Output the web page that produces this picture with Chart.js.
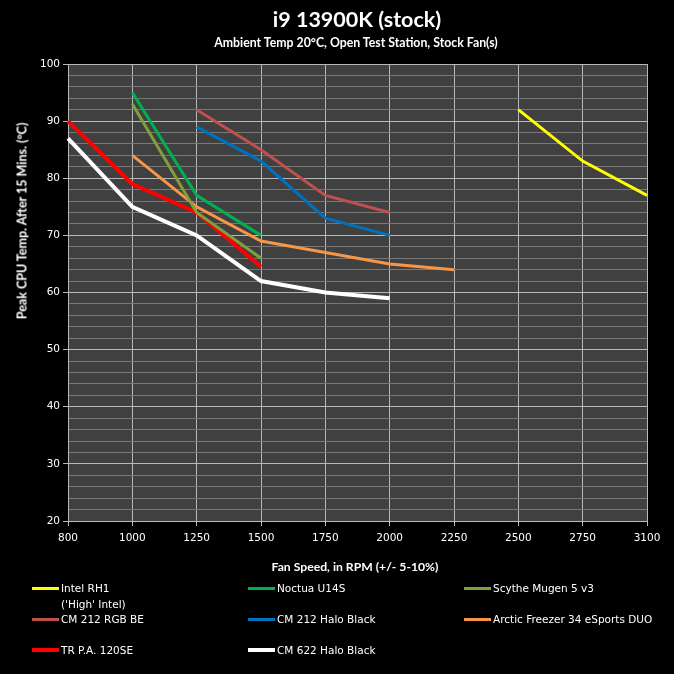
<!DOCTYPE html>
<html>
<head>
<meta charset="utf-8">
<script src="https://cdn.jsdelivr.net/npm/chart.js@4.4.1/dist/chart.umd.min.js"></script>
<style>
  html, body { margin: 0; padding: 0; background: #000; }
  #wrap { position: relative; width: 674px; height: 674px; background: #000; overflow: hidden; }
  canvas { position: absolute; left: 0; top: 0; }
  .txt { position: absolute; color: #fff; white-space: nowrap; font-family: Lato, "Open Sans", sans-serif; font-weight: bold; }
  .ctr { transform: translate(-50%, -50%); }
  .leg { position: absolute; display: flex; align-items: flex-start; color: #fff;
         font-family: "DejaVu Sans", sans-serif; font-size: 10.5px; line-height: 16px; white-space: pre-line; }
  .leg .sw { display: inline-block; width: 27px; margin-right: 2px; }
</style>
</head>
<body>
<div id="wrap">
  <canvas id="c" width="674" height="674"></canvas>
  <div class="txt ctr" style="left:357px; top:19px; font-size:21.5px;">i9 13900K (stock)</div>
  <div class="txt ctr" style="left:356px; top:42px; font-size:12.3px;">Ambient Temp 20°C, Open Test Station, Stock Fan(s)</div>
  <div class="txt ctr" style="left:355px; top:566px; font-size:12.2px;">Fan Speed, in RPM (+/- 5-10%)</div>
  <div class="txt" style="left:22px; top:221px; font-size:12.5px; transform: translate(-50%, -50%) rotate(-90deg);">Peak CPU Temp. After 15 Mins. (°C)</div>
</div>
<script>
const categories = ['800', '1000', '1250', '1500', '1750', '2000', '2250', '2500', '2750', '3100'];
const yTickLabels = [20, 30, 40, 50, 60, 70, 80, 90, 100];

const intelRH1      = [null, null, null, null, null, null, null, 92, 83, 77];
const noctuaU14S    = [null, 95, 77, 70, null, null, null, null, null, null];
const scytheMugen5  = [null, 93, 74, 66, null, null, null, null, null, null];
const cm212RGB      = [null, null, 92, 85, 77, 74, null, null, null, null];
const cm212Halo     = [null, null, 89, 83, 73, 70, null, null, null, null];
const arcticFreezer = [null, 84, 75, 69, 67, 65, 64, null, null, null];
const trPA120SE     = [90, 79, 74, 64.5, null, null, null, null, null, null];
const cm622Halo     = [87, 75, 70, 62, 60, 59, null, null, null, null];

const seriesNames = ["Intel RH1\n('High' Intel)", 'Noctua U14S', 'Scythe Mugen 5 v3',
  'CM 212 RGB BE', 'CM 212 Halo Black', 'Arctic Freezer 34 eSports DUO',
  'TR P.A. 120SE', 'CM 622 Halo Black'];
const seriesValues = [intelRH1, noctuaU14S, scytheMugen5, cm212RGB, cm212Halo, arcticFreezer, trPA120SE, cm622Halo];
const seriesColors = ['#ffff00', '#00b050', '#7f9f3a', '#c0504d', '#0070c0', '#f79646', '#ff0000', '#ffffff'];
const seriesWidths = [3, 3, 3, 3, 3, 3, 4, 4];

const datasets = seriesNames.map((n, i) => ({
  label: n.replace('\n', ' '),
  data: seriesValues[i],
  borderColor: seriesColors[i],
  backgroundColor: seriesColors[i],
  borderWidth: seriesWidths[i],
  pointRadius: 0,
  pointHoverRadius: 0,
  tension: 0,
  fill: false,
  spanGaps: false,
  borderCapStyle: 'butt',
  borderJoinStyle: 'miter'
}));

const plotBg = {
  id: 'plotBg',
  beforeDraw(chart) {
    const { ctx, chartArea: a } = chart;
    ctx.save();
    ctx.fillStyle = '#404040';
    ctx.fillRect(a.left, a.top, a.right - a.left, a.bottom - a.top);
    ctx.restore();
  }
};

Chart.defaults.font.family = '"DejaVu Sans", sans-serif';
Chart.defaults.font.size = 10.5;
Chart.defaults.color = '#ffffff';

new Chart(document.getElementById('c'), {
  type: 'line',
  data: { labels: categories, datasets },
  plugins: [plotBg],
  options: {
    responsive: false,
    animation: false,
    layout: { padding: { left: 0, right: 27, top: 64, bottom: 123 } },
    plugins: { legend: { display: false }, title: { display: false }, tooltip: { enabled: false } },
    scales: {
      x: {
        type: 'category',
        offset: false,
        afterFit: s => { s.height = 30; },
        grid: { color: '#b8b8b8', lineWidth: 1, tickLength: 5, tickColor: '#b8b8b8', offset: false },
        border: { color: '#b8b8b8' },
        ticks: { color: '#ffffff', padding: 6, maxRotation: 0, autoSkip: false }
      },
      y: {
        min: 20, max: 100,
        afterFit: s => { s.width = 68; },
        grid: {
          color: c => (c.tick && c.tick.value % 10 === 0) ? '#b8b8b8' : '#787878',
          tickColor: c => (c.tick && c.tick.value % 10 === 0) ? '#b8b8b8' : 'rgba(0,0,0,0)',
          tickLength: 5, lineWidth: 1
        },
        border: { color: '#b8b8b8' },
        ticks: {
          stepSize: 2, autoSkip: false, padding: 3, color: '#ffffff',
          callback: v => yTickLabels.includes(v) ? String(v) : ''
        }
      }
    }
  }
});

// HTML legend built from the series
const legCols = [32, 248, 464];
const legRows = [588, 619, 650];
const wrap = document.getElementById('wrap');
seriesNames.forEach((n, i) => {
  const col = i % 3, row = Math.floor(i / 3);
  const d = document.createElement('div');
  d.className = 'leg';
  d.style.left = legCols[col] + 'px';
  d.style.top = (legRows[row] - 8) + 'px';
  const sw = document.createElement('span');
  sw.className = 'sw';
  sw.style.height = seriesWidths[i] + 'px';
  sw.style.marginTop = (8 - seriesWidths[i] / 2) + 'px';
  sw.style.background = seriesColors[i];
  const t = document.createElement('span');
  t.textContent = n;
  d.appendChild(sw);
  d.appendChild(t);
  wrap.appendChild(d);
});
</script>
</body>
</html>
